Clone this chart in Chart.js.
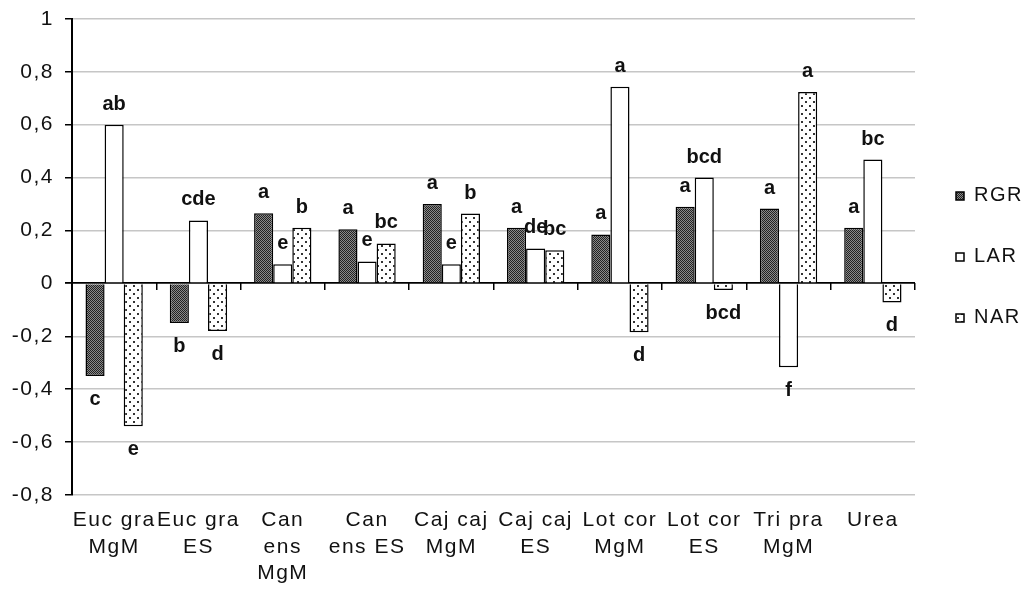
<!DOCTYPE html>
<html>
<head>
<meta charset="utf-8">
<script src="https://cdn.jsdelivr.net/npm/chart.js@4"></script>
<style>
  html, body { margin: 0; padding: 0; background: #fff; }
  #wrap { width: 1021px; height: 589px; }
</style>
</head>
<body>
<div id="wrap"><canvas id="c" width="1021" height="589"></canvas></div>
<script>
// ---- data ----
const categories = [
  ['Euc gra', 'MgM'], ['Euc gra', 'ES'], ['Can', 'ens', 'MgM'], ['Can', 'ens ES'],
  ['Caj caj', 'MgM'], ['Caj caj', 'ES'], ['Lot cor', 'MgM'], ['Lot cor', 'ES'],
  ['Tri pra', 'MgM'], ['Urea']
];
const seriesNames = ['RGR', 'LAR', 'NAR'];
const rgrValues = [-0.35, -0.15, 0.265, 0.205, 0.30, 0.21, 0.185, 0.29, 0.283, 0.21];
const larValues = [0.60, 0.238, 0.072, 0.083, 0.072, 0.132, 0.743, 0.40, -0.317, 0.468];
const narValues = [-0.54, -0.18, 0.21, 0.151, 0.264, 0.125, -0.185, -0.025, 0.724, -0.072];
const rgrLetters = ['c', 'b', 'a', 'a', 'a', 'a', 'a', 'a', 'a', 'a'];
const larLetters = ['ab', 'cde', 'e', 'e', 'e', 'de', 'a', 'bcd', 'f', 'bc'];
const narLetters = ['e', 'd', 'b', 'bc', 'b', 'bc', 'd', 'bcd', 'a', 'd'];
const yTickValues = [-0.8, -0.6, -0.4, -0.2, 0, 0.2, 0.4, 0.6, 0.8, 1];

// ---- patterns ----
function makePattern(kind) {
  const p = document.createElement('canvas');
  const ctx = p.getContext('2d');
  if (kind === 'rgr') {
    p.width = 2; p.height = 2;
    ctx.fillStyle = '#8a8a8a'; ctx.fillRect(0, 0, 2, 2);
    ctx.fillStyle = '#222222'; ctx.fillRect(0, 0, 1, 1); ctx.fillRect(1, 1, 1, 1);
  } else {
    p.width = 8; p.height = 8;
    ctx.fillStyle = '#ffffff'; ctx.fillRect(0, 0, 8, 8);
    ctx.fillStyle = '#333333';
    ctx.fillRect(1, 1, 2, 2); ctx.fillRect(5, 5, 2, 2);
  }
  return document.getElementById('c').getContext('2d').createPattern(p, 'repeat');
}
const rgrFill = makePattern('rgr');
const narFill = makePattern('nar');

const FONT = "'Liberation Sans', Arial, sans-serif";
const letterSets = [rgrLetters, larLetters, narLetters];

const spacingPlugin = {
  id: 'spacing',
  beforeUpdate(chart) { chart.ctx.letterSpacing = '1.5px'; },
  beforeDraw(chart) { chart.ctx.letterSpacing = '1.5px'; }
};

const lettersPlugin = {
  id: 'letters',
  afterDatasetsDraw(chart) {
    const ctx = chart.ctx;
    ctx.save();
    ctx.letterSpacing = '0px';
    ctx.font = 'bold 20px ' + FONT;
    ctx.fillStyle = '#111';
    ctx.textAlign = 'center';
    ctx.textBaseline = 'alphabetic';
    chart.data.datasets.forEach((ds, di) => {
      const meta = chart.getDatasetMeta(di);
      meta.data.forEach((bar, i) => {
        const v = ds.data[i];
        const txt = letterSets[di][i];
        const y = v >= 0 ? Math.min(bar.y, bar.base) - 15 : Math.max(bar.y, bar.base) + 29;
        ctx.fillText(txt, bar.x, y);
      });
    });
    ctx.restore();
  }
};

function fmt(v) {
  const r = Math.round(v * 10) / 10;
  if (Number.isInteger(r)) return String(r);
  return r.toFixed(1).replace('.', ',');
}

new Chart(document.getElementById('c'), {
  type: 'bar',
  data: {
    labels: categories,
    datasets: [
      { label: seriesNames[0], data: rgrValues, backgroundColor: rgrFill, borderColor: '#000', borderWidth: 1.5 },
      { label: seriesNames[1], data: larValues, backgroundColor: '#ffffff', borderColor: '#000', borderWidth: 1.5 },
      { label: seriesNames[2], data: narValues, backgroundColor: narFill, borderColor: '#000', borderWidth: 1.5 }
    ]
  },
  options: {
    responsive: false,
    animation: false,
    devicePixelRatio: 1,
    layout: { padding: { left: 0, top: 0, right: 0, bottom: 0 } },
    datasets: { bar: { categoryPercentage: 0.68, barPercentage: 1.0 } },
    plugins: {
      tooltip: { enabled: false },
      legend: {
        position: 'right',
        fullSize: false,
        maxWidth: 106,
        maxHeight: 469,
        labels: {
          boxWidth: 8, boxHeight: 8, padding: 41,
          color: '#111',
          font: { family: FONT, size: 20 }
        }
      }
    },
    scales: {
      x: {
        position: 'bottom',
        afterFit(s) { s.height = 94; },
        grid: { display: false, drawTicks: false },
        border: { display: false },
        ticks: {
          color: '#111', padding: 12, maxRotation: 0, autoSkip: false,
          font: { family: FONT, size: 21, lineHeight: 1.27 }
        }
      },
      x2: {
        type: 'category',
        position: { y: 0 },
        offset: true,
        afterFit(s) { s.height = 0; },
        grid: { offset: true, drawOnChartArea: false, drawTicks: true, tickLength: 7, color: '#000', lineWidth: 1.5 },
        border: { display: false },
        ticks: { display: false }
      },
      y: {
        min: -0.8, max: 1,
        afterFit(s) { s.width = 72; },
        afterBuildTicks(scale) { scale.ticks = yTickValues.map(v => ({ value: v })); },
        border: { display: true, color: '#000', width: 2 },
        grid: {
          color: c => (c.tick && Math.abs(c.tick.value) < 1e-9) ? '#000' : '#c6c6c6',
          lineWidth: c => (c.tick && Math.abs(c.tick.value) < 1e-9) ? 1.8 : 1.5,
          tickColor: '#000', tickLength: 7, drawTicks: true
        },
        ticks: {
          color: '#111', padding: 11,
          font: { family: FONT, size: 21, lineHeight: 0.75 },
          callback: v => fmt(v)
        }
      }
    }
  },
  plugins: [spacingPlugin, lettersPlugin]
});
</script>
</body>
</html>
